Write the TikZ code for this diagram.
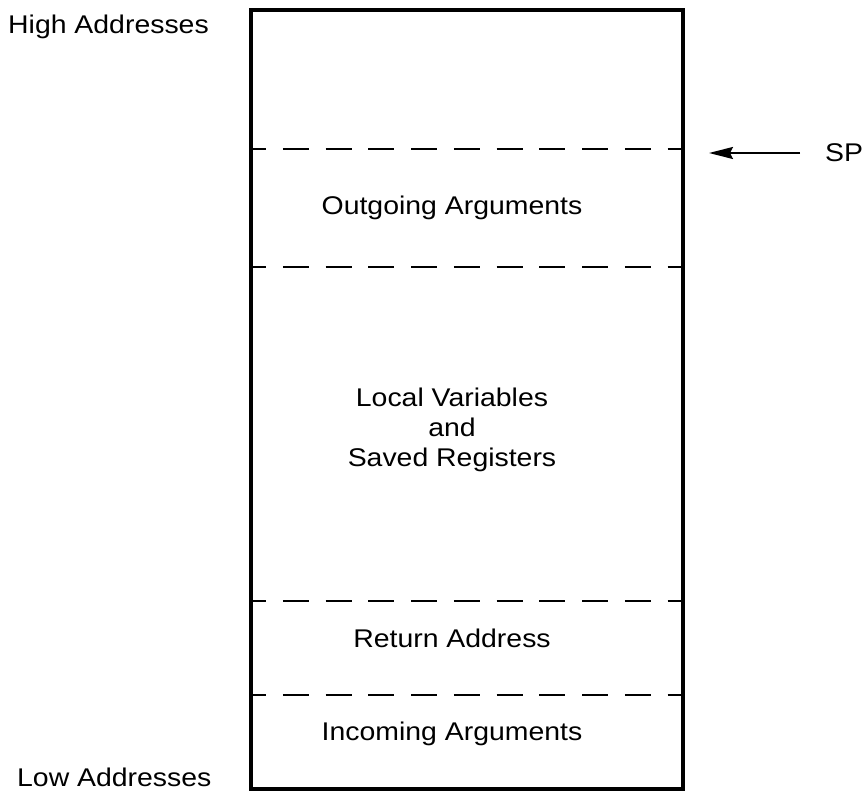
\documentclass[tikz,border=0pt]{standalone}
\usepackage{fontspec}
\setmainfont{Liberation Sans}[FakeStretch=1.11]
\usetikzlibrary{arrows.meta}
\begin{document}
\begin{tikzpicture}[x=1pt,y=-1pt,
  lbl/.style={inner sep=0pt,anchor=base,font=\fontsize{25.6}{30}\selectfont},
  lbll/.style={lbl,anchor=base west},
  frame/.style={line width=3.5pt},
  sep/.style={line width=2pt,dash pattern=on 26pt off 16.75pt,dash phase=11pt},
  ptr/.style={line width=2pt,-{Stealth[length=24pt,width=12pt,inset=3pt]}}]
\useasboundingbox (0,0) rectangle (863,791);
\draw[frame] (251,10) rectangle (683,789);
\draw[sep] (251,149) -- (683,149);
\draw[sep] (251,267) -- (683,267);
\draw[sep] (251,601) -- (683,601);
\draw[sep] (251,695) -- (683,695);
\node[lbll] (high) at (8,34) {High Addresses};
\node[lbll] (low) at (17,786) {Low Addresses};
\node[lbl] (out) at (452,215) {Outgoing Arguments};
\node[lbl] (loc1) at (452,407) {Local Variables};
\node[lbl] (loc2) at (452,437) {and};
\node[lbl] (loc3) at (452,467) {Saved Registers};
\node[lbl] (ret) at (452,648) {Return Address};
\node[lbl] (inc) at (452,740) {Incoming Arguments};
\node[lbll] (sp) at (825,162) {SP};
\coordinate (spfrom) at (800,153);
\coordinate (sptip) at (709,153);
\draw[ptr] (spfrom) -- (sptip);
\end{tikzpicture}
\end{document}
